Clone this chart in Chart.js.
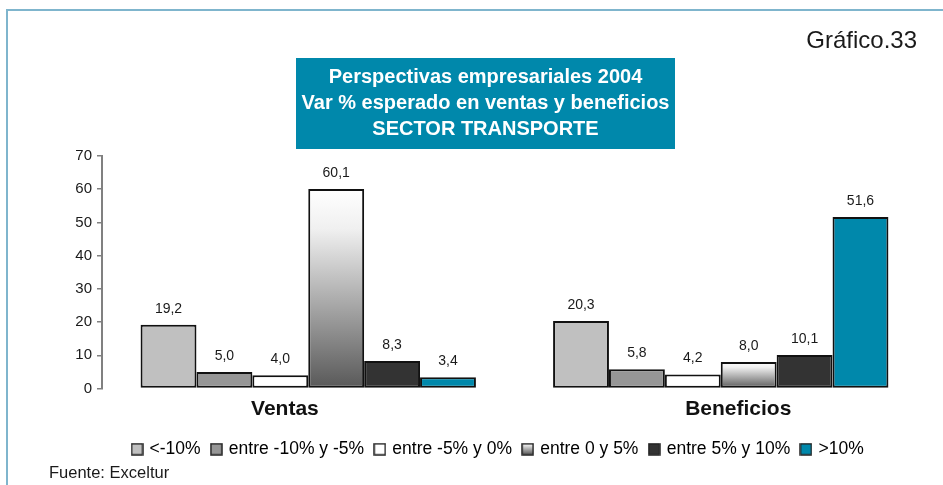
<!DOCTYPE html>
<html>
<head>
<meta charset="utf-8">
<title>Perspectivas empresariales 2004 - Sector Transporte</title>
<script src="https://cdn.jsdelivr.net/npm/chart.js@4/dist/chart.umd.min.js"></script>
<style>
  html, body { margin: 0; padding: 0; background: #ffffff; }
  #wrap { position: relative; width: 943px; height: 485px; overflow: hidden; }
  #frameTop { position: absolute; left: 6px; top: 9px; width: 937px; height: 2px; background: #7fb5cd; }
  #frameLeft { position: absolute; left: 6px; top: 9px; width: 2px; height: 476px; background: #7fb5cd; }
  canvas { position: absolute; left: 0; top: 0; }
</style>
</head>
<body>
<div id="wrap">
  <canvas id="chart" width="943" height="485"></canvas>
  <div id="frameTop"></div>
  <div id="frameLeft"></div>
</div>
<script>
// Categories on the x axis
const categories = ['Ventas', 'Beneficios'];

// Answer ranges (one series per range)
const seriesNames = ['<-10%', 'entre -10% y -5%', 'entre -5% y 0%', 'entre 0 y 5%', 'entre 5% y 10%', '>10%'];

// Percentage of companies per range: [Ventas, Beneficios]
const menos10      = [19.2, 20.3];
const menos10a5    = [5.0, 5.8];
const menos5a0     = [4.0, 4.2];
const entre0a5     = [60.1, 8.0];
const entre5a10    = [8.3, 10.1];
const mas10        = [3.4, 51.6];

// Y axis ticks
const yTicks = [0, 10, 20, 30, 40, 50, 60, 70];

const titleLines = ['Perspectivas empresariales 2004', 'Var % esperado en ventas y beneficios', 'SECTOR TRANSPORTE'];
const chartNumber = 'Gráfico.33';
const sourceText = 'Fuente: Exceltur';

const TEAL = '#0088ab';
const FONT = '"Liberation Sans", Arial, Helvetica, sans-serif';

// Vertical white-to-grey gradient spanning each bar
function barGradient(ctx) {
  const chart = ctx.chart;
  if (!chart.chartArea || ctx.dataIndex === undefined || !chart.scales.y) return '#b0b0b0';
  const y = chart.scales.y;
  const top = y.getPixelForValue(ctx.raw);
  const base = y.getPixelForValue(0);
  const g = chart.ctx.createLinearGradient(0, top, 0, base);
  g.addColorStop(0, '#ffffff');
  g.addColorStop(0.2, '#f0f0f0');
  g.addColorStop(1, '#585858');
  return g;
}

const fills = ['#c0c0c0', '#969696', '#ffffff', barGradient, '#333333', TEAL];
const values = [menos10, menos10a5, menos5a0, entre0a5, entre5a10, mas10];

// Small square swatches for the legend
function swatch(i) {
  const c = document.createElement('canvas');
  c.width = 13; c.height = 13;
  const x = c.getContext('2d');
  if (i === 3) {
    const g = x.createLinearGradient(0, 1, 0, 12);
    g.addColorStop(0, '#ffffff');
    g.addColorStop(1, '#555555');
    x.fillStyle = g;
  } else {
    x.fillStyle = fills[i];
  }
  x.fillRect(1, 1, 11, 11);
  x.strokeStyle = '#222222';
  x.lineWidth = 1.5;
  x.strokeRect(1, 1, 11, 11);
  return c;
}

const datasets = seriesNames.map((name, i) => ({
  label: name,
  data: values[i],
  backgroundColor: fills[i],
  borderColor: '#111111',
  borderWidth: 2,
  borderSkipped: false,
  barPercentage: 1.0,
  categoryPercentage: 0.813
}));

// Value labels above the bars, decimal comma
const valueLabels = {
  id: 'valueLabels',
  afterDatasetsDraw(chart) {
    const ctx = chart.ctx;
    ctx.save();
    ctx.font = '14px ' + FONT;
    ctx.fillStyle = '#1a1a1a';
    ctx.textAlign = 'center';
    ctx.textBaseline = 'middle';
    chart.data.datasets.forEach((ds, di) => {
      const meta = chart.getDatasetMeta(di);
      meta.data.forEach((el, i) => {
        const txt = ds.data[i].toFixed(1).replace('.', ',');
        ctx.fillText(txt, el.x, el.y - 16);
      });
    });
    ctx.restore();
  }
};

// Title box, chart number and source note
const decorations = {
  id: 'decorations',
  afterDraw(chart) {
    const ctx = chart.ctx;
    ctx.save();
    ctx.fillStyle = TEAL;
    ctx.fillRect(296, 58, 379, 91);
    ctx.fillStyle = '#ffffff';
    ctx.font = 'bold 20px ' + FONT;
    ctx.textAlign = 'center';
    ctx.textBaseline = 'alphabetic';
    const base = [83, 109, 135];
    titleLines.forEach((t, i) => ctx.fillText(t, 485.5, base[i]));

    ctx.fillStyle = '#1a1a1a';
    ctx.font = '24px ' + FONT;
    ctx.textAlign = 'right';
    ctx.fillText(chartNumber, 917, 48);

    ctx.font = '16.5px ' + FONT;
    ctx.textAlign = 'left';
    ctx.fillText(sourceText, 49, 478);
    ctx.restore();
  }
};

new Chart(document.getElementById('chart'), {
  type: 'bar',
  data: { labels: categories, datasets },
  plugins: [valueLabels, decorations],
  options: {
    responsive: false,
    animation: false,
    events: [],
    layout: { padding: { top: 156, right: 16, left: 70, bottom: 17 } },
    plugins: {
      title: { display: false },
      tooltip: { enabled: false },
      legend: {
        position: 'bottom',
        labels: {
          usePointStyle: true,
          pointStyleWidth: 7.5,
          padding: 12,
          color: '#1a1a1a',
          font: { family: FONT, size: 17.5 },
          generateLabels(chart) {
            return chart.data.datasets.map((ds, i) => ({
              text: ds.label,
              pointStyle: swatch(i),
              fillStyle: '#000',
              strokeStyle: '#000',
              lineWidth: 0,
              hidden: false,
              datasetIndex: i
            }));
          }
        }
      }
    },
    scales: {
      x: {
        grid: { display: false, drawTicks: false },
        border: { display: false },
        ticks: {
          padding: 8,
          color: '#111111',
          font: { family: FONT, size: 21, weight: 'bold' },
          // nudges each group title off its bar group centre
          callback(v, i) {
            const l = categories[i];
            return i === 0 ? l + '\u00a0'.repeat(8) : '\u00a0'.repeat(6) + l;
          }
        },
        afterFit(scale) { scale.height = 40; }
      },
      y: {
        min: 0,
        max: 70,
        afterBuildTicks(scale) { scale.ticks = yTicks.map(v => ({ value: v })); },
        grid: { display: true, drawOnChartArea: false, drawTicks: true, tickLength: 5, color: '#808080', lineWidth: 1.5 },
        border: { display: true, color: '#808080', width: 2 },
        ticks: {
          padding: 5,
          color: '#1a1a1a',
          font: { family: FONT, size: 15 }
        },
        afterFit(scale) { scale.width = 32; }
      }
    }
  }
});
</script>
</body>
</html>
